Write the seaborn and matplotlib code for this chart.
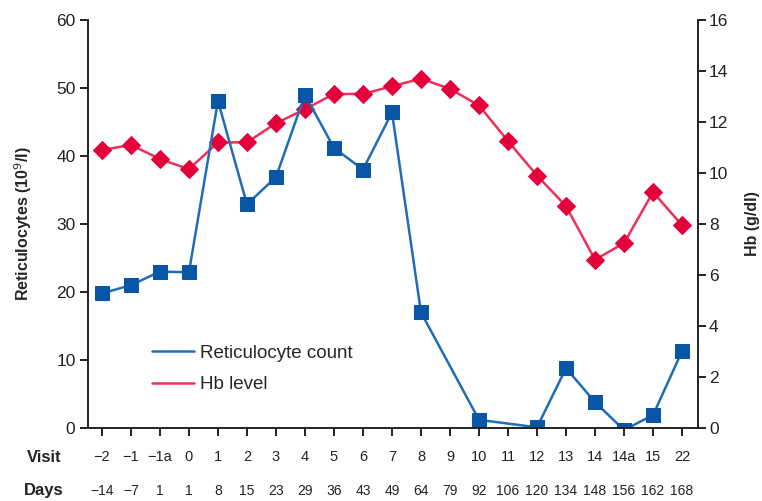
import numpy as np
import pandas as pd
import matplotlib
matplotlib.use("Agg")
import matplotlib.pyplot as plt
import matplotlib.transforms as mtransforms
import seaborn as sns

visits = ["\u22122", "\u22121", "\u22121a", "0", "1", "2", "3", "4", "5", "6", "7",
          "8", "9", "10", "11", "12", "13", "14", "14a", "15", "22"]
days = ["\u221214", "\u22127", "1", "1", "8", "15", "23", "29", "36", "43", "49",
        "64", "79", "92", "106", "120", "134", "148", "156", "162", "168"]
reticulocytes = [19.8, 21.0, 23.0, 22.9, 48.1, 32.9, 36.9, 49.0, 41.2, 38.0, 46.4,
                 17.0, np.nan, 1.2, np.nan, 0.1, 8.8, 3.8, -0.3, 1.9, 11.3]
hb = [10.9, 11.1, 10.55, 10.15, 11.2, 11.2, 11.95, 12.5, 13.1, 13.1, 13.4,
      13.7, 13.3, 12.65, 11.25, 9.9, 8.7, 6.6, 7.25, 9.25, 7.95]

BLUE = "#0a56a6"
BLUE_LINE = "#1e6db6"
RED = "#e4003b"
RED_LINE = "#ee3057"
INK = "#222222"

sns.set_style("ticks")
plt.rcParams["font.family"] = ["Liberation Sans", "DejaVu Sans"]
plt.rcParams["axes.edgecolor"] = INK
plt.rcParams["xtick.color"] = INK
plt.rcParams["ytick.color"] = INK

pos = np.arange(len(visits))
ret_df = pd.DataFrame({"pos": pos, "value": reticulocytes}).dropna()
hb_df = pd.DataFrame({"pos": pos, "value": hb})

fig = plt.figure(figsize=(7.62, 5.01), dpi=100)
ax = fig.add_axes([88 / 762, 73 / 501, 610 / 762, 408 / 501])
ax2 = ax.twinx()

sns.lineplot(data=hb_df, x="pos", y="value", ax=ax2, color=RED_LINE, lw=1.8,
             marker="D", markersize=9.5, markerfacecolor=RED, markeredgecolor=RED,
             label="Hb level", legend=False)
sns.lineplot(data=ret_df, x="pos", y="value", ax=ax, color=BLUE_LINE, lw=1.8,
             marker="s", markersize=10, markerfacecolor=BLUE, markeredgecolor=BLUE,
             label="Reticulocyte count", legend=False)

ax.set_zorder(ax2.get_zorder() + 1)
ax.patch.set_visible(False)

ax.set_xlim(-0.48, 20.55)
ax.set_ylim(0, 60)
ax2.set_ylim(0, 16)
ax.set_yticks(np.arange(0, 61, 10))
ax2.set_yticks(np.arange(0, 17, 2))

ax.set_xticks(pos)
ax.set_xticklabels([])
ax.set_xlabel("")
ax2.set_xlabel("")

for a in (ax, ax2):
    a.spines["top"].set_visible(False)
    for s in a.spines.values():
        s.set_linewidth(1.4)
        s.set_color(INK)
ax.spines["right"].set_visible(False)
ax2.spines["left"].set_visible(False)
ax2.spines["bottom"].set_visible(False)

ax.tick_params(axis="y", labelsize=12.5, length=6, width=1.4, pad=3)
ax2.tick_params(axis="y", labelsize=12.5, length=6, width=1.4, pad=2)
ax.tick_params(axis="x", length=6, width=1.4)

ax.set_ylabel("Reticulocytes (10$^{9}$/l)", fontsize=11.5, fontweight="bold", labelpad=16)
ax2.set_ylabel("Hb (g/dl)", fontsize=11.5, fontweight="bold", rotation=90, labelpad=12)

trans = mtransforms.blended_transform_factory(ax.transData, fig.transFigure)
for p, v, d in zip(pos, visits, days):
    ax.text(p, 1 - 457 / 501, v, transform=trans, ha="center", va="center",
            fontsize=10.5, color=INK)
    ax.text(p, 1 - 491 / 501, d, transform=trans, ha="center", va="center",
            fontsize=10, color=INK)
fig.text(44 / 762, 1 - 457 / 501, "Visit", ha="center", va="center",
         fontsize=12, fontweight="bold", color=INK)
fig.text(44 / 762, 1 - 491 / 501, "Days", ha="center", va="center",
         fontsize=12, fontweight="bold", color=INK)

handles = [plt.Line2D([], [], color=BLUE_LINE, lw=1.8),
           plt.Line2D([], [], color=RED_LINE, lw=1.8)]
ax.legend(handles, ["Reticulocyte count", "Hb level"], loc="upper left",
          bbox_to_anchor=(0.078, 0.245), frameon=False, fontsize=13.5,
          handlelength=2.2, handletextpad=0.32, labelspacing=0.76)

fig.savefig("out.png", dpi=100)
